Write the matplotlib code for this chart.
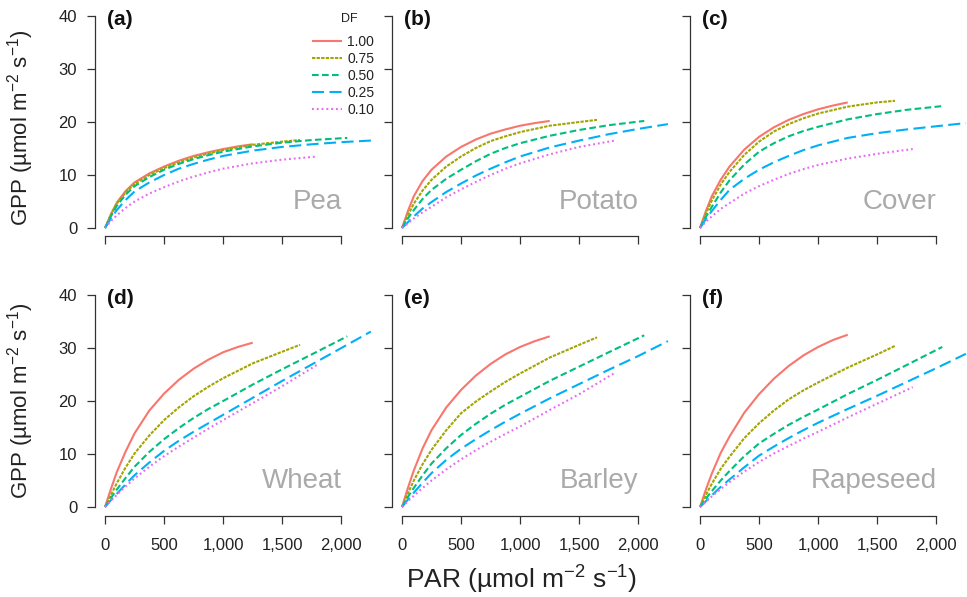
import matplotlib
matplotlib.use("Agg")
import matplotlib.pyplot as plt

plt.rcParams['font.family'] = ['Liberation Sans', 'DejaVu Sans']
plt.rcParams['mathtext.fontset'] = 'custom'
plt.rcParams['mathtext.rm'] = 'Liberation Sans'
plt.rcParams['mathtext.it'] = 'Liberation Sans:italic'
plt.rcParams['mathtext.default'] = 'regular'

# ---------------- data ----------------
CROPS = ["Pea", "Potato", "Cover", "Wheat", "Barley", "Rapeseed"]
PANEL_LABELS = ["(a)", "(b)", "(c)", "(d)", "(e)", "(f)"]
DF_LABELS = ["1.00", "0.75", "0.50", "0.25", "0.10"]

PAR_100 = [0, 50, 100, 175, 250, 375, 500, 625, 750, 875, 1000, 1125, 1250]
PAR_075 = [0, 50, 100, 175, 250, 375, 500, 625, 750, 875, 1000, 1250, 1500, 1650]
PAR_050 = [0, 50, 100, 175, 250, 375, 500, 625, 750, 875, 1000, 1250, 1500, 1750, 2050]
PAR_025 = [0, 50, 100, 175, 250, 375, 500, 625, 750, 875, 1000, 1250, 1500, 1750, 2000, 2250]
PAR_010 = [0, 50, 100, 175, 250, 375, 500, 625, 750, 875, 1000, 1250, 1500, 1800]

PEA_100 = [0, 2.6, 4.8, 7.0, 8.6, 10.3, 11.6, 12.7, 13.6, 14.3, 14.9, 15.4, 15.8]
PEA_075 = [0, 2.5, 4.6, 6.7, 8.3, 10.0, 11.3, 12.4, 13.3, 14.05, 14.7, 15.7, 16.3, 16.6]
PEA_050 = [0, 2.2, 4.2, 6.3, 7.9, 9.6, 11.0, 12.1, 13.0, 13.75, 14.4, 15.4, 16.1, 16.6, 17.0]
PEA_025 = [0, 1.8, 3.4, 5.3, 6.9, 8.6, 10.0, 11.2, 12.1, 12.9, 13.6, 14.6, 15.3, 15.8, 16.2, 16.5]
PEA_010 = [0, 1.3, 2.4, 3.8, 5.0, 6.5, 7.7, 8.8, 9.7, 10.5, 11.2, 12.2, 12.9, 13.5]

POTATO_100 = [0, 3.2, 6.0, 8.9, 11.0, 13.5, 15.3, 16.7, 17.8, 18.6, 19.3, 19.8, 20.2]
POTATO_075 = [0, 2.4, 4.6, 7.1, 9.1, 11.6, 13.5, 15.1, 16.4, 17.3, 18.1, 19.3, 20.0, 20.4]
POTATO_050 = [0, 1.8, 3.4, 5.5, 7.2, 9.3, 11.0, 12.6, 14.0, 15.1, 16.0, 17.4, 18.5, 19.4, 20.2]
POTATO_025 = [0, 1.1, 2.2, 3.7, 4.9, 6.8, 8.4, 9.9, 11.2, 12.4, 13.5, 15.2, 16.5, 17.7, 18.7, 19.6]
POTATO_010 = [0, 0.9, 1.8, 3.0, 4.0, 5.8, 7.3, 8.7, 10.0, 11.2, 12.2, 13.9, 15.3, 16.5]

COVER_100 = [0, 3.2, 6.0, 9.1, 11.6, 14.8, 17.2, 19.0, 20.4, 21.5, 22.4, 23.1, 23.7]
COVER_075 = [0, 2.7, 5.2, 8.2, 10.6, 13.8, 16.3, 18.2, 19.6, 20.7, 21.6, 22.9, 23.7, 24.0]
COVER_050 = [0, 2.1, 4.0, 6.7, 9.0, 12.0, 14.4, 16.0, 17.3, 18.3, 19.1, 20.5, 21.5, 22.3, 23.0]
COVER_025 = [0, 1.7, 3.2, 5.3, 7.2, 9.3, 11.0, 12.4, 13.6, 14.7, 15.6, 17.0, 17.9, 18.6, 19.2, 19.8]
COVER_010 = [0, 1.2, 2.2, 3.6, 4.7, 6.5, 7.9, 9.1, 10.2, 11.1, 11.9, 13.1, 14.0, 14.9]

WHEAT_100 = [0, 3.4, 6.6, 10.5, 13.9, 18.2, 21.4, 24.0, 26.1, 27.8, 29.2, 30.2, 31.0]
WHEAT_075 = [0, 2.3, 4.5, 7.5, 10.1, 13.5, 16.4, 18.8, 20.9, 22.7, 24.3, 27.1, 29.3, 30.6]
WHEAT_050 = [0, 1.7, 3.3, 5.5, 7.6, 10.4, 12.8, 14.9, 16.8, 18.5, 20.0, 23.1, 26.0, 28.8, 32.2]
WHEAT_025 = [0, 1.3, 2.5, 4.3, 6.0, 8.4, 10.6, 12.5, 14.2, 15.8, 17.4, 20.6, 23.8, 26.9, 30.0, 33.1]
WHEAT_010 = [0, 1.2, 2.3, 3.9, 5.4, 7.6, 9.6, 11.4, 13.1, 14.8, 16.4, 19.6, 22.8, 26.9]

BARLEY_100 = [0, 3.6, 6.9, 11.1, 14.5, 18.8, 22.1, 24.8, 27.0, 28.8, 30.2, 31.3, 32.2]
BARLEY_075 = [0, 2.6, 5.0, 8.1, 10.8, 14.5, 17.7, 19.9, 21.8, 23.6, 25.2, 28.2, 30.6, 32.0]
BARLEY_050 = [0, 1.9, 3.6, 6.0, 8.2, 11.1, 13.6, 15.7, 17.6, 19.3, 20.8, 23.8, 26.5, 29.2, 32.4]
BARLEY_025 = [0, 1.4, 2.7, 4.6, 6.4, 8.9, 11.0, 12.8, 14.5, 16.1, 17.6, 20.5, 23.2, 25.9, 28.5, 31.3]
BARLEY_010 = [0, 1.1, 2.1, 3.6, 5.0, 7.1, 9.0, 10.7, 12.3, 13.8, 15.2, 18.3, 21.3, 25.3]

RAPESEED_100 = [0, 3.3, 6.3, 10.2, 13.3, 17.8, 21.3, 24.2, 26.6, 28.6, 30.2, 31.5, 32.5]
RAPESEED_075 = [0, 2.3, 4.4, 7.2, 9.5, 13.0, 15.8, 18.2, 20.3, 22.0, 23.5, 26.3, 28.8, 30.4]
RAPESEED_050 = [0, 1.6, 3.0, 5.0, 6.8, 9.6, 12.0, 13.8, 15.5, 17.0, 18.4, 21.3, 24.0, 26.8, 30.2]
RAPESEED_025 = [0, 1.1, 2.2, 3.8, 5.2, 7.5, 9.7, 11.4, 13.0, 14.5, 15.9, 18.5, 21.0, 23.6, 26.2, 28.9]
RAPESEED_010 = [0, 1.0, 2.0, 3.4, 4.7, 6.7, 8.5, 10.1, 11.5, 12.9, 14.2, 16.9, 19.5, 22.6]

X_TICKS = [0, 500, 1000, 1500, 2000]
X_TICK_LABELS = ["0", "500", "1,000", "1,500", "2,000"]
Y_TICKS = [0, 10, 20, 30, 40]
Y_TICK_LABELS = ["0", "10", "20", "30", "40"]

PAR_GRIDS = [PAR_100, PAR_075, PAR_050, PAR_025, PAR_010]
GPP = [
    [PEA_100, PEA_075, PEA_050, PEA_025, PEA_010],
    [POTATO_100, POTATO_075, POTATO_050, POTATO_025, POTATO_010],
    [COVER_100, COVER_075, COVER_050, COVER_025, COVER_010],
    [WHEAT_100, WHEAT_075, WHEAT_050, WHEAT_025, WHEAT_010],
    [BARLEY_100, BARLEY_075, BARLEY_050, BARLEY_025, BARLEY_010],
    [RAPESEED_100, RAPESEED_075, RAPESEED_050, RAPESEED_025, RAPESEED_010],
]

# ---------------- styling ----------------
COLORS = ["#F8766D", "#A3A500", "#00BF7D", "#00B0F6", "#E76BF3"]
DASHES = [None, (1.6, 0.6), (3.2, 1.6), (5.8, 2.6), (0.9, 1.4)]
LW = 1.5
AX_COLOR = "#333333"
TXT_COLOR = "#222222"

W, H = 967, 597
fig = plt.figure(figsize=(W / 100, H / 100), dpi=100)

lefts_px = [94.6, 391.6, 689.6]
tops_px = [7.5, 286.5]
aw, ah = 280.8, 229.0

axes = []
for r in range(2):
    for c in range(3):
        i = r * 3 + c
        ax = fig.add_axes([lefts_px[c] / W, 1 - (tops_px[r] + ah) / H, aw / W, ah / H])
        axes.append(ax)
        for k in range(5):
            line, = ax.plot(PAR_GRIDS[k], GPP[i][k], color=COLORS[k], lw=LW,
                            label=DF_LABELS[k], solid_capstyle='butt',
                            dash_capstyle='butt', solid_joinstyle='round')
            if DASHES[k] is not None:
                line.set_dashes(DASHES[k])
        ax.set_xlim(-88, 2288)
        ax.set_ylim(-1.6, 41.6)
        for s in ["top", "right"]:
            ax.spines[s].set_visible(False)
        ax.spines["left"].set_bounds(0, 40)
        ax.spines["bottom"].set_bounds(0, 2000)
        for s in ["left", "bottom"]:
            ax.spines[s].set_color(AX_COLOR)
            ax.spines[s].set_linewidth(0.9)
        ax.set_xticks(X_TICKS)
        ax.set_yticks(Y_TICKS)
        ax.tick_params(axis="both", direction="out", length=5.5, width=0.9,
                       color=AX_COLOR, labelsize=12, labelcolor=TXT_COLOR)
        ax.tick_params(axis="x", pad=11)
        ax.tick_params(axis="y", pad=7)
        if r == 1:
            ax.set_xticklabels(X_TICK_LABELS)
        else:
            ax.tick_params(axis="x", labelbottom=False)
        if c == 0:
            ax.set_yticklabels(Y_TICK_LABELS)
        else:
            ax.tick_params(axis="y", labelleft=False)
        ax.text(0.045, 0.948, PANEL_LABELS[i], transform=ax.transAxes, fontsize=15,
                fontweight="bold", va="center", ha="left", color="#111111")
        ax.text(0.880, 0.122, CROPS[i], transform=ax.transAxes, fontsize=20,
                ha="right", va="baseline", color="#AAAAAA")

# legend (panel a)
axes[0].text(0.906, 0.950, "DF", transform=axes[0].transAxes, fontsize=9,
             ha="center", va="center", color=TXT_COLOR)
leg = axes[0].legend(loc="upper left", bbox_to_anchor=(0.774, 0.880), frameon=False,
                     fontsize=10, handlelength=2.2, handletextpad=0.35,
                     labelspacing=0.22, borderpad=0, borderaxespad=0)
for t in leg.get_texts():
    t.set_color(TXT_COLOR)

ylab = "GPP (µmol m$^{-2}$ s$^{-1}$)"
fig.text(21 / W, 1 - 128 / H, ylab, rotation=90, ha="center", va="center", fontsize=16,
         color=TXT_COLOR)
fig.text(21 / W, 1 - 401 / H, ylab, rotation=90, ha="center", va="center", fontsize=16,
         color=TXT_COLOR)
fig.text(522 / W, 1 - 580 / H, "PAR (µmol m$^{-2}$ s$^{-1}$)", ha="center", va="center",
         fontsize=19, color=TXT_COLOR)

fig.savefig("out.png", dpi=100)
